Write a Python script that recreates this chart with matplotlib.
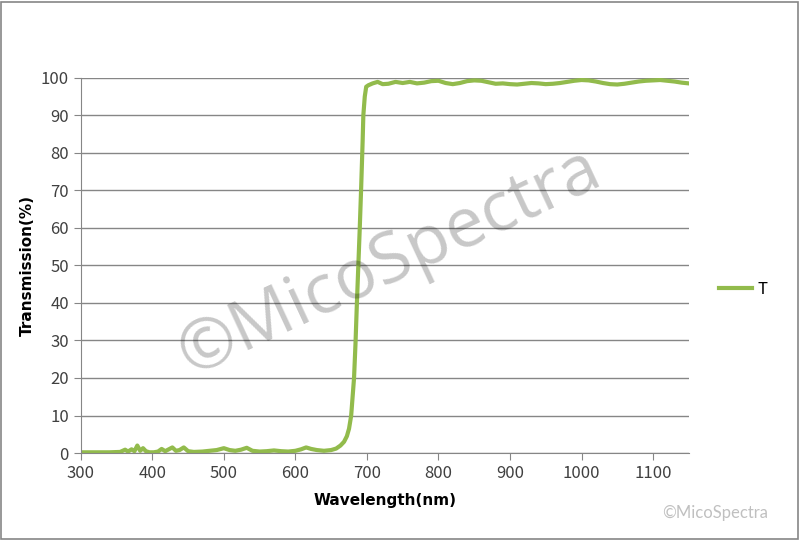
import numpy as np
import matplotlib.pyplot as plt
from matplotlib.patches import Rectangle

# wavelength (nm) and transmission (%)
wl = [300, 320, 340, 355, 362, 366, 371, 375, 379, 383, 387, 391, 396, 402,
      408, 413, 418, 423, 428, 433, 438, 444, 450, 458, 470, 480, 490, 500,
      508, 516, 524, 532, 540, 550, 560, 570, 580, 590, 600, 608, 615, 622,
      630, 640, 650, 657, 663, 668, 672, 675, 678, 680, 682, 684, 686, 688,
      690, 692, 694, 695, 697, 699, 702, 708, 715, 722, 730, 740, 750, 760, 770,
      780, 790, 800, 810, 820, 830, 840, 850, 860, 870, 880, 890, 900, 910,
      920, 930, 940, 950, 960, 970, 980, 990, 1000, 1010, 1020, 1030, 1040,
      1050, 1060, 1070, 1080, 1090, 1100, 1110, 1120, 1130, 1140, 1150]
T = [0.2, 0.2, 0.2, 0.3, 0.9, 0.4, 1.0, 0.5, 2.0, 0.6, 1.3, 0.5, 0.2, 0.2,
     0.4, 1.1, 0.5, 1.0, 1.5, 0.6, 0.8, 1.5, 0.5, 0.3, 0.4, 0.6, 0.8, 1.3,
     0.8, 0.6, 0.9, 1.4, 0.6, 0.4, 0.5, 0.7, 0.5, 0.4, 0.6, 1.0, 1.5, 1.1,
     0.8, 0.6, 0.8, 1.2, 2.0, 3.0, 4.5, 6.5, 10, 15, 20, 29, 40, 50,
     60, 71, 83, 90, 95, 97.6, 98.0, 98.5, 98.9, 98.3, 98.4, 98.9, 98.6, 98.9, 98.5,
     98.7, 99.1, 99.2, 98.6, 98.3, 98.6, 99.1, 99.3, 99.2, 98.8, 98.4, 98.5, 98.3, 98.2,
     98.4, 98.6, 98.5, 98.3, 98.4, 98.6, 98.9, 99.2, 99.4, 99.3, 99.0, 98.6, 98.3,
     98.2, 98.4, 98.7, 99.0, 99.2, 99.3, 99.4, 99.2, 99.0, 98.7, 98.5]

xticks = np.arange(300, 1101, 100)
yticks = np.arange(0, 101, 10)

plt.rcParams['font.family'] = ['Noto Sans CJK SC', 'DejaVu Sans']

fig = plt.figure(figsize=(8, 5.4), dpi=100)
ax = fig.add_axes([0.101, 0.161, 0.76, 0.695])

ax.plot(wl, T, color='#92bb4c', lw=3, label='T', solid_joinstyle='round')

ax.set_xlim(300, 1150)
ax.set_ylim(0, 100)
ax.set_xticks(xticks)
ax.set_yticks(yticks)
ax.tick_params(axis='both', labelsize=12, colors='#404040')
ax.tick_params(axis='x', length=5, color='#868686', direction='out')
ax.tick_params(axis='y', length=5, color='#868686', direction='out')
ax.grid(axis='y', color='#868686', lw=1)
ax.set_axisbelow(True)
for s in ['top', 'right']:
    ax.spines[s].set_visible(False)
for s in ['left', 'bottom']:
    ax.spines[s].set_color('#868686')

ax.set_xlabel('Wavelength(nm)', fontsize=11, fontweight='bold', family='DejaVu Sans',
              labelpad=8)
ax.set_ylabel('Transmission(%)', fontsize=11, fontweight='bold', family='DejaVu Sans')

ax.legend(loc='center left', bbox_to_anchor=(1.025, 0.435), frameon=False,
          fontsize=12, handlelength=2.0, handletextpad=0.3)

# watermarks
fig.text(0.487, 0.513, '©MicoSpectra', fontsize=50, color='black', alpha=0.22,
         rotation=25, ha='center', va='center', family='Open Sans')
fig.text(0.96, 0.05, '©MicoSpectra', fontsize=12, color='#c0c0c0',
         ha='right', va='center', family='Lato')

fig.patches.append(Rectangle((0.001, 0.002), 0.997, 0.995, transform=fig.transFigure,
                             fill=False, ec='#868686', lw=1.2))

fig.savefig('out.png', dpi=100)
